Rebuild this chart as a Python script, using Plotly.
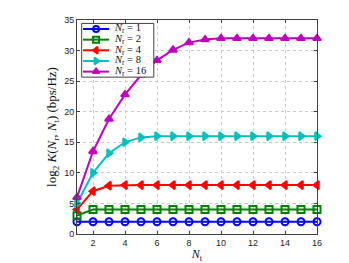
import plotly.graph_objects as go

nt = list(range(1, 17))
k_nr1 = [2]*16
k_nr2 = [3] + [4]*15
k_nr4 = [4, 7, 7.9] + [8]*13
k_nr8 = [5, 10, 13.2, 15, 15.8] + [16]*11
k_nr16 = [6, 13.5, 18.8, 22.8, 26, 28.4, 30.1, 31.3, 31.8, 32] + [32]*6
labels = ["<i>N</i><sub>r</sub> = 1", "<i>N</i><sub>r</sub> = 2", "<i>N</i><sub>r</sub> = 4",
          "<i>N</i><sub>r</sub> = 8", "<i>N</i><sub>r</sub> = 16"]

values = [k_nr1, k_nr2, k_nr4, k_nr8, k_nr16]
colors = ["#0000ff", "#008000", "#ff0000", "#00bfbf", "#bf00bf"]
symbols = ["circle-open", "square-open", "triangle-left", "triangle-right", "triangle-up"]

fig = go.Figure()
for name, y, c, sym in zip(labels, values, colors, symbols):
    fig.add_trace(go.Scatter(
        x=nt, y=y, name=name, mode="lines+markers",
        line=dict(color=c, width=2),
        marker=dict(symbol=sym, size=7, color=c, line=dict(color=c, width=2)),
        cliponaxis=False, showlegend=False,
    ))

# ---- legend drawn on an overlay (unit) axis so it sits above the data ----
box_x0, box_x1, box_y0, box_y1 = 0.0196, 0.320, 0.733, 0.984
fig.add_trace(go.Scatter(
    x=[box_x0, box_x1, box_x1, box_x0, box_x0],
    y=[box_y0, box_y0, box_y1, box_y1, box_y0],
    xaxis="x2", yaxis="y2", mode="lines", fill="toself", fillcolor="white",
    line=dict(color="#404040", width=1), showlegend=False, hoverinfo="skip",
))
row_top = 0.958
row_step = 0.0498
for i, (name, c, sym) in enumerate(zip(labels, colors, symbols)):
    ly = row_top - i * row_step
    fig.add_trace(go.Scatter(
        x=[0.025, 0.134], y=[ly, ly], xaxis="x2", yaxis="y2", mode="lines",
        line=dict(color=c, width=2), showlegend=False, hoverinfo="skip",
    ))
    fig.add_trace(go.Scatter(
        x=[0.0795], y=[ly], xaxis="x2", yaxis="y2", mode="markers",
        marker=dict(symbol=sym, size=6, color=c, line=dict(color=c, width=2)),
        showlegend=False, hoverinfo="skip",
    ))
    fig.add_annotation(
        x=0.145, y=ly, xref="paper", yref="paper", text=name, showarrow=False,
        xanchor="left", yanchor="middle",
        font=dict(family="Liberation Serif, DejaVu Serif", size=10.5, color="#111"),
    )

axis_common = dict(
    showline=True, linecolor="#404040", linewidth=1, mirror="ticks",
    ticks="inside", ticklen=3, tickcolor="#404040",
    showgrid=True, gridcolor="#c8c8c8", griddash="dot", gridwidth=1,
    zeroline=False, automargin=False,
    tickfont=dict(family="Liberation Sans, Arial", size=9, color="#222"),
)

fig.update_layout(
    width=341, height=255,
    margin=dict(l=69, r=32, t=12, b=29),
    paper_bgcolor="white", plot_bgcolor="white",
    showlegend=False,
    xaxis=dict(range=[1, 16], tickvals=[2, 4, 6, 8, 10, 12, 14, 16],
               title=dict(text="<i>N</i><sub>t</sub>", standoff=2,
                          font=dict(family="Liberation Serif, DejaVu Serif", size=12, color="#111")),
               **axis_common),
    yaxis=dict(range=[0, 35], tickvals=[0, 5, 10, 15, 20, 25, 30, 35],
               title=dict(text="log<sub>2</sub> <i>K</i>(<i>N</i><sub>r</sub>, <i>N</i><sub>t</sub>) (bps/Hz)", standoff=4,
                          font=dict(family="Liberation Serif, DejaVu Serif", size=13, color="#111")),
               **axis_common),
    xaxis2=dict(overlaying="x", range=[0, 1], visible=False, fixedrange=True),
    yaxis2=dict(overlaying="y", range=[0, 1], visible=False, fixedrange=True),
)

fig.write_html("out.html")
